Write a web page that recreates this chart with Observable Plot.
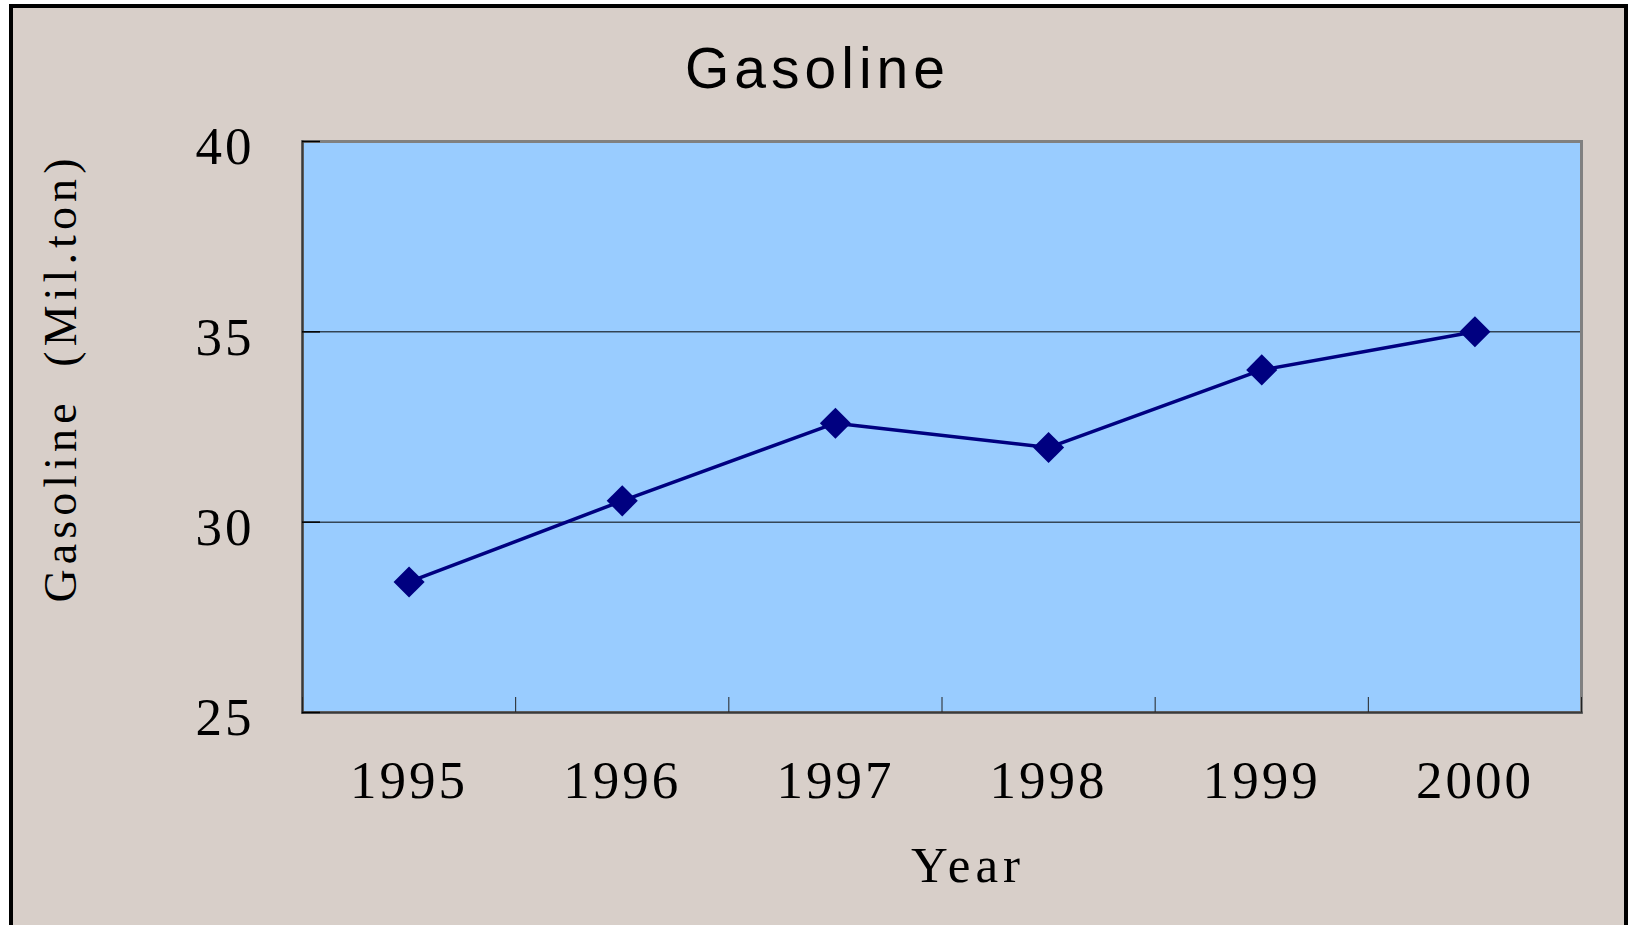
<!DOCTYPE html>
<html><head><meta charset="utf-8">
<script src="https://cdn.jsdelivr.net/npm/d3@7"></script>
<script src="https://cdn.jsdelivr.net/npm/@observablehq/plot@0.6"></script>
<style>
html,body{margin:0;padding:0;background:#fff;overflow:hidden;}
#wrap{position:relative;width:1628px;height:925px;overflow:hidden;}
#bg{position:absolute;left:9px;top:4px;width:1611px;height:1000px;border:4px solid #000;border-bottom:none;background:#D8CFC9;}
#title{position:absolute;left:0;width:1635px;top:40px;text-align:center;font-family:"Liberation Sans",Arial,sans-serif;font-size:57px;line-height:57px;letter-spacing:5px;color:#000;}
#chart{position:absolute;left:0;top:0;}
</style></head>
<body><div id="wrap"><div id="bg"></div><div id="title"></div><div id="chart"></div></div>
<script>
const titleText = "Gasoline";
const xLabel = "Year";
const yLabel = "Gasoline (Mil.ton)";
const years = [1995, 1996, 1997, 1998, 1999, 2000];
const gasoline = [28.43, 30.56, 32.6, 31.96, 34.0, 35.0];
const yTicks = [25, 30, 35, 40];
const yGrid = [30, 35];

const data = years.map((y, i) => ({year: y, value: gasoline[i]}));
const xBounds = [years[0] - 0.5, ...years.map(y => y + 0.5)];
const serif = '"Liberation Serif","Times New Roman",serif';

document.getElementById("title").textContent = titleText;

const plot = Plot.plot({
  width: 1628, height: 925,
  marginLeft: 302, marginRight: 47, marginTop: 141, marginBottom: 213,
  style: {background: "transparent", fontFamily: serif, overflow: "visible", color: "#000"},
  x: {type: "linear", domain: [years[0] - 0.5, years[years.length - 1] + 0.5]},
  y: {domain: [yTicks[0], yTicks[yTicks.length - 1]]},
  marks: [
    Plot.frame({fill: "#99CCFF", stroke: "none"}),
    Plot.ruleY(yGrid, {stroke: "#000", strokeWidth: 1}),
    Plot.frame({stroke: "#808080", strokeWidth: 3}),
    Plot.frame({anchor: "left", stroke: "#3a3a3a", strokeWidth: 2}),
    Plot.frame({anchor: "bottom", stroke: "#3a3a3a", strokeWidth: 2}),
    Plot.axisY({ticks: yTicks, tickSize: 18, dx: 18, tickFormat: () => "", label: null, stroke: "#000", strokeWidth: 1.5}),
    Plot.axisX({ticks: xBounds, tickSize: 15, dy: -15, tickFormat: () => "", label: null, stroke: "#222", strokeWidth: 1}),
    Plot.axisY({ticks: yTicks, tickSize: 0, tickPadding: 48, dy: 6, fontSize: 53, label: null, fill: "#000"}),
    Plot.axisX({ticks: years, tickSize: 0, tickPadding: 48, tickFormat: d => String(d), fontSize: 53, label: null, fill: "#000"}),
    Plot.line(data, {x: "year", y: "value", stroke: "#000080", strokeWidth: 3.5}),
    Plot.dot(data, {x: "year", y: "value", symbol: "diamond2", r: 14, fill: "#000080", stroke: "none"}),
    Plot.text([xLabel], {frameAnchor: "bottom", textAnchor: "middle", dx: 26, dy: 169, fontSize: 51, fill: "#000", fontFamily: serif}),
    Plot.text([yLabel], {frameAnchor: "left", textAnchor: "middle", lineAnchor: "middle", rotate: -90, dx: -241, dy: -49, fontSize: 46, fill: "#000", fontFamily: serif})
  ]
});

const svg = d3.select(plot);
svg.selectAll('g[aria-label="y-axis tick label"] text, g[aria-label="x-axis tick label"] text').style("letter-spacing", "3px");
svg.selectAll('g[aria-label="text"] text').each(function() {
  const t = d3.select(this);
  if (t.text() === xLabel) t.style("letter-spacing", "5px");
  else t.style("letter-spacing", "5.1px").style("word-spacing", "15px");
});
document.getElementById("chart").appendChild(plot);
</script>
</body></html>
